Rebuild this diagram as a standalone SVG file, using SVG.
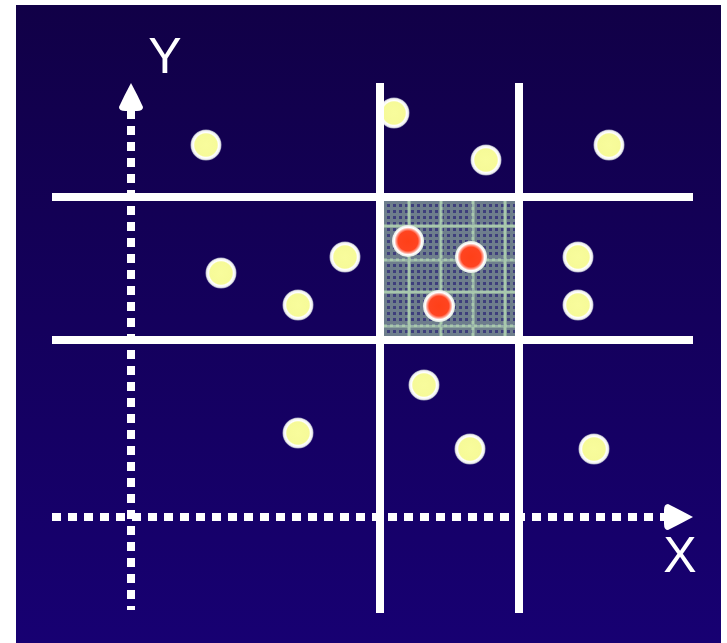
<svg xmlns="http://www.w3.org/2000/svg" width="727" height="643" viewBox="0 0 727 643">
  <defs>
    <linearGradient id="bg" x1="0" y1="0" x2="0" y2="1">
      <stop offset="0" stop-color="#110047"/>
      <stop offset="1" stop-color="#170072"/>
    </linearGradient>
    <pattern id="dots" x="380" y="197" width="6" height="6" patternUnits="userSpaceOnUse">
      <rect width="6" height="6" fill="#6e7e8c"/>
      <rect x="1" y="1" width="3" height="3" fill="#3e3e7c"/>
    </pattern>
    <radialGradient id="yel">
      <stop offset="0" stop-color="#f8fc9c"/>
      <stop offset="0.72" stop-color="#f6fa98"/>
      <stop offset="0.8" stop-color="#ffffff"/>
      <stop offset="0.92" stop-color="#f0f0f0"/>
      <stop offset="1" stop-color="#9898b8"/>
    </radialGradient>
    <radialGradient id="red">
      <stop offset="0" stop-color="#ff4018"/>
      <stop offset="0.62" stop-color="#ff4420"/>
      <stop offset="0.75" stop-color="#ffa090"/>
      <stop offset="0.85" stop-color="#ffffff"/>
      <stop offset="1" stop-color="#e0e8e0"/>
    </radialGradient>
  </defs>
  <style>
    .axis { stroke: #ffffff; stroke-width: 8; stroke-dasharray: 9 7; fill: none; }
    .grid { stroke: #ffffff; stroke-width: 8; fill: none; }
    .cellline { stroke: #c8f0c0; stroke-width: 3; opacity: 0.65; }
    .lbl { font-family: "Liberation Sans", Arial, sans-serif; font-size: 50px; fill: #ffffff; text-anchor: middle; }
  </style>
  <rect x="0" y="0" width="727" height="643" fill="#ffffff"/>
  <rect x="16" y="5" width="705" height="638" fill="url(#bg)"/>

  <g id="query-region">
    <rect x="380" y="197" width="139" height="143" fill="url(#dots)"/>
    <g class="cellline">
      <line x1="409" y1="197" x2="409" y2="340"/>
      <line x1="441" y1="197" x2="441" y2="340"/>
      <line x1="473" y1="197" x2="473" y2="340"/>
      <line x1="505" y1="197" x2="505" y2="340"/>
      <line x1="380" y1="226" x2="519" y2="226"/>
      <line x1="380" y1="260" x2="519" y2="260"/>
      <line x1="380" y1="292" x2="519" y2="292"/>
      <line x1="380" y1="326" x2="519" y2="326"/>
      <line x1="382" y1="197" x2="382" y2="340"/>
      <line x1="517" y1="197" x2="517" y2="340"/>
      <line x1="380" y1="199" x2="519" y2="199"/>
      <line x1="380" y1="338" x2="519" y2="338"/>
    </g>
  </g>

  <g id="points">
    <circle cx="206" cy="145" r="15.5" fill="url(#yel)"/>
    <circle cx="394" cy="113" r="15.5" fill="url(#yel)"/>
    <circle cx="486" cy="160" r="15.5" fill="url(#yel)"/>
    <circle cx="609" cy="145" r="15.5" fill="url(#yel)"/>
    <circle cx="221" cy="273" r="15.5" fill="url(#yel)"/>
    <circle cx="345" cy="257" r="15.5" fill="url(#yel)"/>
    <circle cx="298" cy="305" r="15.5" fill="url(#yel)"/>
    <circle cx="578" cy="257" r="15.5" fill="url(#yel)"/>
    <circle cx="578" cy="305" r="15.5" fill="url(#yel)"/>
    <circle cx="424" cy="385" r="15.5" fill="url(#yel)"/>
    <circle cx="298" cy="433" r="15.5" fill="url(#yel)"/>
    <circle cx="470" cy="449" r="15.5" fill="url(#yel)"/>
    <circle cx="594" cy="449" r="15.5" fill="url(#yel)"/>
  </g>
  <g id="hits">
    <circle cx="408" cy="241" r="16" fill="url(#red)"/>
    <circle cx="471" cy="257" r="16" fill="url(#red)"/>
    <circle cx="439" cy="306" r="16" fill="url(#red)"/>
  </g>

  <g id="connectors">
    <line class="grid" x1="52" y1="197" x2="693" y2="197"/>
    <line class="grid" x1="52" y1="340" x2="693" y2="340"/>
    <line class="grid" x1="380" y1="83" x2="380" y2="613"/>
    <line class="grid" x1="519" y1="83" x2="519" y2="613"/>
    <line class="axis" x1="131" y1="110" x2="131" y2="610"/>
    <line class="axis" x1="52" y1="517" x2="666" y2="517"/>
    <path d="M131 83 Q138 96 143 107 Q143 111 137 111 L125 111 Q119 111 119 107 Q124 96 131 83 Z" fill="#ffffff"/>
    <path d="M693 517 Q680 524 668 530 Q664 530 664 524 L664 510 Q664 504 668 504 Q680 510 693 517 Z" fill="#ffffff"/>
  </g>

  <g id="labels">
    <text class="lbl" x="165" y="73">Y</text>
    <text class="lbl" x="680" y="572">X</text>
  </g>
</svg>
